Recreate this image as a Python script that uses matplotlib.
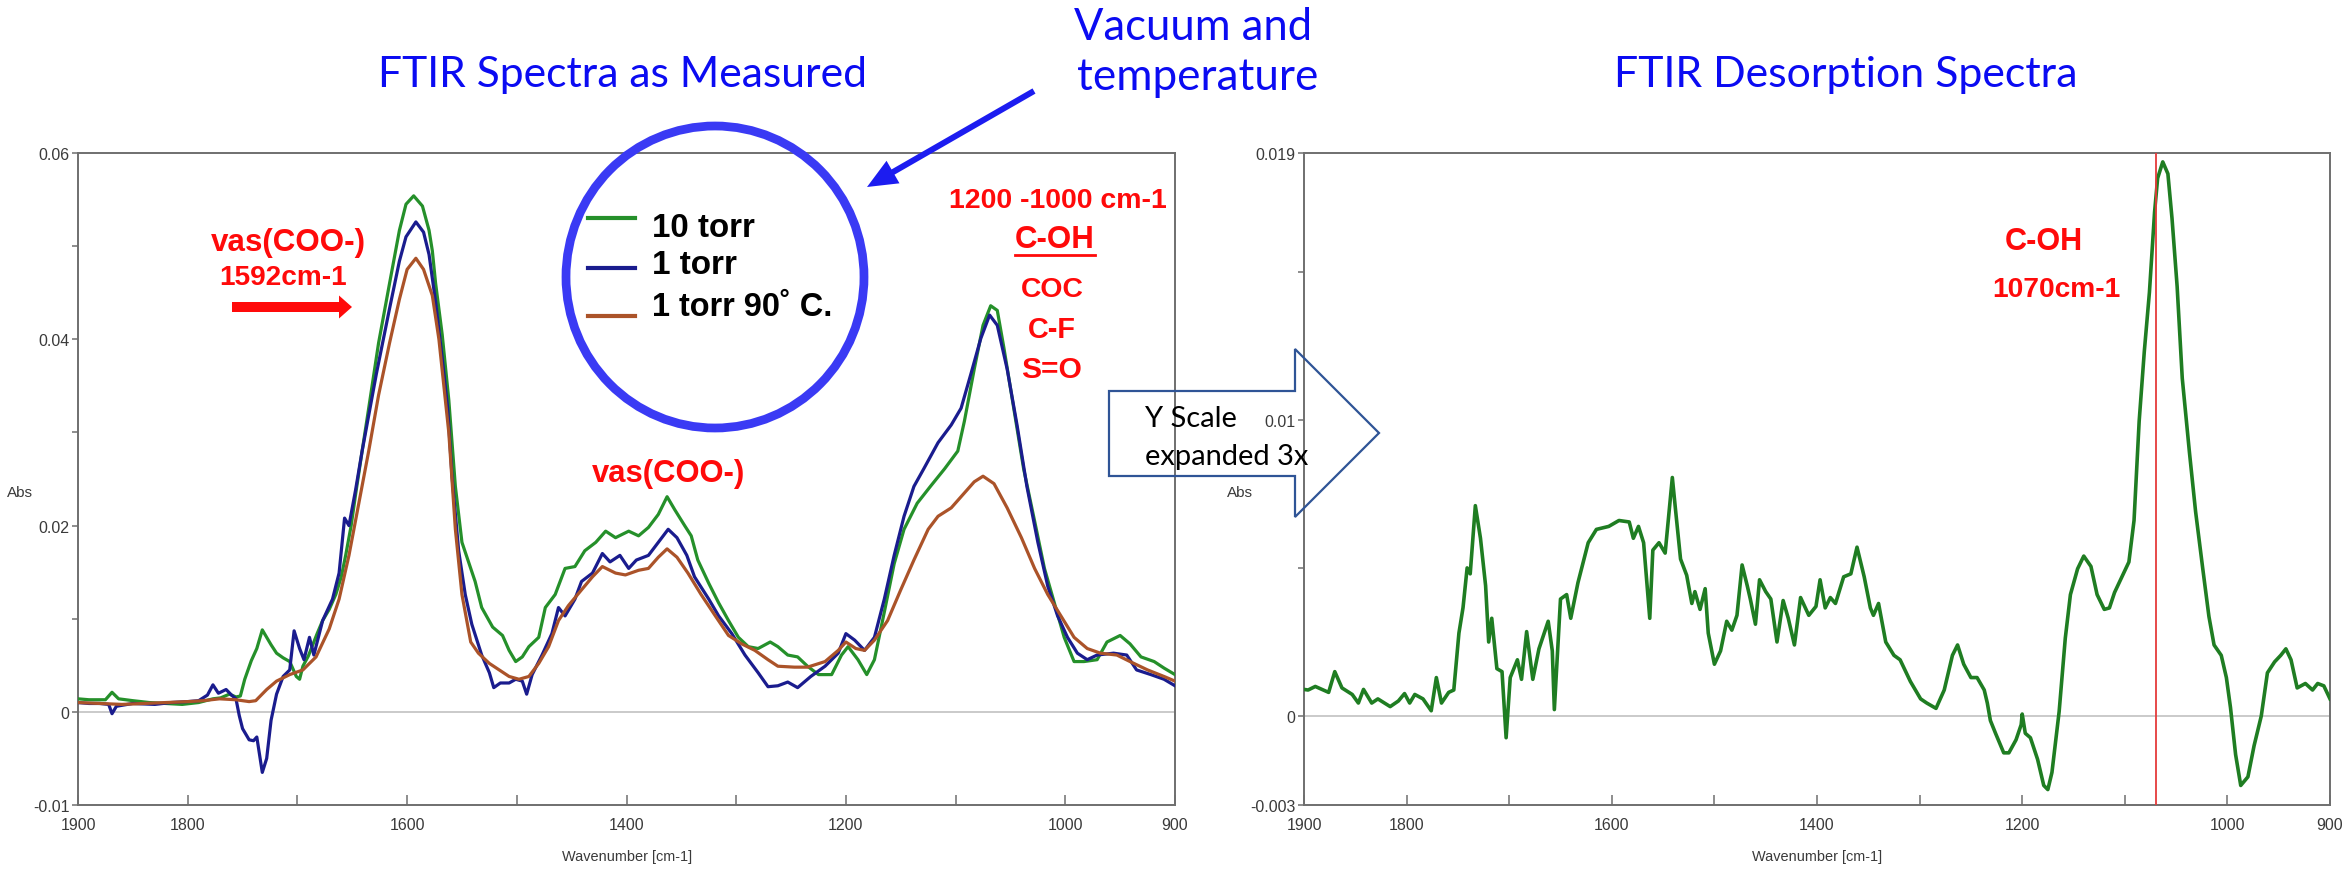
import matplotlib
matplotlib.use("Agg")
import matplotlib.pyplot as plt
import numpy as np
from matplotlib.patches import Ellipse, Polygon, FancyArrow
from matplotlib.lines import Line2D
from matplotlib.ticker import FixedLocator, FixedFormatter

plt.rcParams['font.family'] = ['Liberation Sans', 'DejaVu Sans']

# ---------------------------------------------------------------- data
series_names = ['10 torr', '1 torr', '1 torr 90\u02da C.']

wn_10torr = [
    1900, 1890, 1880, 1875, 1869, 1863, 1850, 1835, 1820, 1805,
    1790, 1777, 1770, 1762, 1756, 1752, 1748, 1742, 1737, 1732,
    1728, 1724, 1719, 1713, 1707, 1701, 1698, 1695, 1690, 1685,
    1682, 1677, 1671, 1665, 1660, 1656, 1651, 1647, 1641, 1635,
    1626, 1616, 1607, 1601, 1594, 1586, 1580, 1577, 1574, 1568,
    1562, 1556, 1550, 1544, 1538, 1532, 1522, 1513, 1507, 1501,
    1495, 1489, 1480, 1474, 1465, 1456, 1447, 1438, 1428, 1419,
    1410, 1398, 1389, 1380, 1371, 1363, 1356, 1347, 1341, 1335,
    1325, 1316, 1307, 1298, 1289, 1280, 1269, 1262, 1253, 1244,
    1235, 1225, 1213, 1204, 1198, 1189, 1181, 1174, 1165, 1156,
    1147, 1135, 1123, 1110, 1098, 1092, 1083, 1075, 1068, 1062,
    1056, 1047, 1038, 1028, 1019, 1010, 1001, 992, 983, 971,
    962, 950, 941, 931, 919, 910, 900]
abs_10torr = [
    .0014, .0013, .0013, .0013, .0021, .0014, .0012, .0010, .0009, .0008,
    .0010, .0014, .0015, .0019, .0016, .0017, .0035, .0055, .0068, .0088,
    .0080, .0072, .0063, .0058, .0054, .0038, .0035, .0049, .0060, .0075,
    .0084, .0098, .0110, .0126, .0145, .0168, .0200, .0233, .0280, .0326,
    .0396, .0460, .0517, .0545, .0554, .0543, .0517, .0495, .0460, .0405,
    .0335, .0242, .0182, .0161, .0140, .0112, .0091, .0082, .0066, .0054,
    .0059, .0070, .0080, .0112, .0126, .0154, .0156, .0173, .0182, .0194,
    .0187, .0194, .0189, .0198, .0212, .0231, .0217, .0200, .0189, .0163,
    .0138, .0117, .0098, .0080, .0070, .0068, .0075, .0070, .0061, .0059,
    .0049, .0040, .0040, .0061, .0070, .0056, .0040, .0056, .0107, .0159,
    .0196, .0224, .0242, .0261, .0280, .0312, .0368, .0415, .0436, .0431,
    .0391, .0326, .0261, .0205, .0154, .0117, .0080, .0054, .0054, .0056,
    .0075, .0082, .0073, .0059, .0054, .0047, .0040]

wn_1torr = [
    1900, 1890, 1880, 1872, 1869, 1865, 1850, 1830, 1815, 1800,
    1790, 1782, 1777, 1772, 1765, 1760, 1756, 1753, 1750, 1744,
    1740, 1737, 1732, 1728, 1724, 1719, 1713, 1707, 1703, 1698,
    1694, 1689, 1685, 1677, 1668, 1662, 1657, 1653, 1647, 1641,
    1628, 1616, 1607, 1601, 1592, 1585, 1580, 1574, 1568, 1563,
    1559, 1553, 1547, 1541, 1532, 1525, 1521, 1515, 1507, 1501,
    1495, 1491, 1486, 1477, 1468, 1462, 1456, 1447, 1441, 1431,
    1422, 1415, 1406, 1398, 1391, 1380, 1371, 1362, 1354, 1345,
    1338, 1325, 1316, 1304, 1292, 1280, 1271, 1262, 1253, 1244,
    1232, 1219, 1207, 1200, 1192, 1183, 1174, 1165, 1156, 1147,
    1138, 1129, 1116, 1104, 1095, 1086, 1077, 1069, 1062, 1053,
    1044, 1035, 1025, 1016, 1007, 998, 989, 980, 971, 956,
    944, 935, 922, 910, 900]
abs_1torr = [
    .0010, .0009, .0009, .0008, -.0002, .0006, .0009, .0008, .0010, .0011,
    .0012, .0018, .0029, .0020, .0024, .0018, .0014, -.0004, -.0018, -.0030,
    -.0031, -.0027, -.0065, -.0050, -.0009, .0019, .0038, .0045, .0087, .0068,
    .0056, .0080, .0061, .0098, .0121, .0149, .0208, .0200, .0238, .0280,
    .0363, .0433, .0484, .0510, .0526, .0515, .0491, .0440, .0380, .0326,
    .0252, .0173, .0126, .0094, .0061, .0042, .0026, .0031, .0031, .0035,
    .0033, .0019, .0040, .0061, .0084, .0112, .0103, .0121, .0140, .0149,
    .0170, .0161, .0168, .0154, .0163, .0168, .0182, .0196, .0187, .0168,
    .0145, .0121, .0103, .0084, .0061, .0042, .0027, .0028, .0032, .0026,
    .0038, .0049, .0063, .0084, .0077, .0066, .0080, .0121, .0168, .0210,
    .0242, .0261, .0289, .0308, .0326, .0363, .0401, .0426, .0415, .0368,
    .0308, .0242, .0182, .0135, .0103, .0080, .0063, .0056, .0061, .0063,
    .0061, .0045, .0040, .0035, .0028]

wn_1torr_90c = [
    1900, 1880, 1860, 1840, 1820, 1800, 1786, 1771, 1756, 1744,
    1738, 1728, 1719, 1707, 1695, 1683, 1671, 1662, 1653, 1644,
    1635, 1626, 1616, 1607, 1600, 1592, 1585, 1577, 1571, 1562,
    1556, 1550, 1542, 1535, 1525, 1516, 1507, 1498, 1489, 1480,
    1471, 1462, 1453, 1441, 1431, 1422, 1410, 1401, 1389, 1380,
    1371, 1363, 1354, 1344, 1332, 1319, 1307, 1295, 1283, 1271,
    1262, 1247, 1235, 1219, 1207, 1200, 1191, 1183, 1174, 1162,
    1150, 1138, 1125, 1116, 1104, 1092, 1083, 1075, 1065, 1053,
    1040, 1028, 1016, 1004, 992, 980, 968, 953, 941, 925,
    910, 900]
abs_1torr_90c = [
    .0010, .0009, .0008, .0009, .0010, .0011, .0012, .0014, .0013, .0011,
    .0012, .0024, .0033, .0040, .0045, .0059, .0089, .0121, .0168, .0224,
    .0280, .0340, .0396, .0443, .0475, .0487, .0475, .0447, .0400, .0300,
    .0196, .0126, .0075, .0063, .0052, .0045, .0038, .0035, .0038, .0052,
    .0070, .0098, .0114, .0131, .0145, .0156, .0149, .0147, .0152, .0154,
    .0166, .0175, .0166, .0149, .0126, .0103, .0082, .0073, .0066, .0056,
    .0049, .0048, .0048, .0054, .0066, .0075, .0068, .0066, .0077, .0098,
    .0131, .0163, .0196, .0210, .0219, .0235, .0247, .0253, .0245, .0219,
    .0187, .0154, .0126, .0103, .0080, .0068, .0063, .0061, .0054, .0045,
    .0038, .0033]

# desorption spectrum, in milli-absorbance units
wn_desorption = [
    1900, 1896, 1889, 1876, 1870, 1863, 1853, 1847, 1842, 1834,
    1828, 1816, 1808, 1802, 1797, 1792, 1784, 1776, 1771, 1766,
    1759, 1754, 1749, 1745, 1741, 1738, 1733, 1728, 1723, 1720,
    1717, 1712, 1707, 1703, 1699, 1692, 1688, 1683, 1677, 1671,
    1662, 1658, 1656, 1650, 1644, 1640, 1633, 1623, 1615, 1603,
    1593, 1583, 1579, 1574, 1569, 1563, 1560, 1554, 1548, 1541,
    1538, 1533, 1527, 1522, 1519, 1514, 1509, 1506, 1500, 1494,
    1488, 1483, 1478, 1473, 1468, 1465, 1460, 1456, 1450, 1445,
    1439, 1433, 1428, 1422, 1416, 1408, 1401, 1397, 1392, 1387,
    1382, 1374, 1367, 1361, 1354, 1348, 1345, 1340, 1333, 1325,
    1319, 1309, 1299, 1293, 1284, 1276, 1268, 1263, 1257, 1250,
    1244, 1237, 1234, 1231, 1226, 1218, 1213, 1206, 1201, 1200,
    1197, 1192, 1185, 1179, 1175, 1171, 1164, 1158, 1153, 1146,
    1140, 1133, 1127, 1120, 1115, 1110, 1101, 1096, 1091, 1086,
    1081, 1076, 1071, 1068, 1063, 1058, 1054, 1049, 1044, 1037,
    1031, 1024, 1018, 1013, 1006, 1001, 997, 992, 987, 980,
    974, 967, 961, 954, 948, 943, 938, 932, 924, 917,
    912, 906, 900]
mabs_desorption = [
    0.90, 0.88, 1.00, 0.80, 1.50, 0.95, 0.73, 0.44, 0.90, 0.44,
    0.58, 0.32, 0.51, 0.76, 0.44, 0.73, 0.58, 0.18, 1.30, 0.44,
    0.80, 0.88, 2.80, 3.66, 5.00, 4.80, 7.10, 6.00, 4.40, 2.50,
    3.30, 1.60, 1.50, -0.73, 1.30, 1.90, 1.24, 2.85, 1.24, 2.27,
    3.20, 2.20, 0.22, 3.95, 4.10, 3.30, 4.50, 5.85, 6.30, 6.40,
    6.60, 6.55, 6.00, 6.40, 5.85, 3.30, 5.60, 5.85, 5.50, 8.05,
    7.00, 5.30, 4.75, 3.80, 4.20, 3.60, 4.30, 2.80, 1.75, 2.20,
    3.20, 2.90, 3.40, 5.10, 4.40, 3.95, 3.10, 4.60, 4.20, 3.95,
    2.50, 3.90, 3.30, 2.40, 4.00, 3.40, 3.70, 4.60, 3.65, 4.00,
    3.80, 4.70, 4.80, 5.70, 4.70, 3.65, 3.40, 3.80, 2.50, 2.05,
    1.90, 1.17, 0.58, 0.44, 0.26, 0.88, 2.05, 2.40, 1.75, 1.30,
    1.30, 0.88, 0.44, -0.15, -0.58, -1.24, -1.24, -0.80, -0.29, 0.07,
    -0.58, -0.73, -1.46, -2.34, -2.48, -1.90, 0.15, 2.63, 4.10, 4.97,
    5.40, 5.05, 4.10, 3.60, 3.65, 4.17, 4.83, 5.20, 6.60, 9.95,
    12.3, 14.3, 17.0, 18.15, 18.7, 18.3, 16.8, 14.5, 11.4, 8.9,
    6.9, 4.97, 3.36, 2.40, 2.05, 1.30, 0.29, -1.30, -2.34, -2.05,
    -1.00, 0.00, 1.46, 1.83, 2.05, 2.27, 1.90, 0.95, 1.10, 0.88,
    1.10, 1.02, 0.58]

c_oh_peak = 1070  # cm-1, marked on the desorption spectrum

x_ticks = [1900, 1800, 1700, 1600, 1500, 1400, 1300, 1200, 1100, 1000, 900]
x_tick_labels = ['1900', '1800', '', '1600', '', '1400', '', '1200', '', '1000', '900']
y_ticks_measured = [-0.01, 0, 0.01, 0.02, 0.03, 0.04, 0.05, 0.06]
y_labels_measured = ['-0.01', '0', '', '0.02', '', '0.04', '', '0.06']
y_ticks_desorb = [-0.003, 0, 0.005, 0.01, 0.015, 0.019]
y_labels_desorb = ['-0.003', '0', '', '0.01', '', '0.019']

# ---------------------------------------------------------------- figure
W, H, DPI = 2344, 879, 100
fig = plt.figure(figsize=(W / DPI, H / DPI), dpi=DPI, facecolor='white')


def frame(left, right, top=154, bottom=806):
    return [left / W, 1 - bottom / H, (right - left) / W, (bottom - top) / H]


ax1 = fig.add_axes(frame(78, 1175))
ax2 = fig.add_axes(frame(1304, 2330))

SPINE = '#6f6f6f'
TICKTXT = '#3a3a3a'
GREEN, NAVY, BROWN = '#25902a', '#1a1c8e', '#ab5329'
DESORB_GREEN = '#1f7d22'


def style(ax, yticks, ylabels, ylim):
    ax.set_xlim(1900, 900)
    ax.set_ylim(*ylim)
    ax.axhline(0, color='#cacaca', lw=1.4, zorder=1)
    for s in ax.spines.values():
        s.set_color(SPINE)
        s.set_linewidth(1.4)
    ax.xaxis.set_major_locator(FixedLocator(x_ticks))
    ax.xaxis.set_major_formatter(FixedFormatter(x_tick_labels))
    ax.yaxis.set_major_locator(FixedLocator(yticks))
    ax.yaxis.set_major_formatter(FixedFormatter(ylabels))
    ax.tick_params(axis='x', direction='in', length=7, width=1.1, color=SPINE,
                   labelcolor=TICKTXT, labelsize=11.5, pad=9)
    ax.tick_params(axis='y', direction='out', length=4.5, width=1.1, color=SPINE,
                   labelcolor=TICKTXT, labelsize=11.5, pad=1.5)


style(ax1, y_ticks_measured, y_labels_measured, (-0.01, 0.06))
style(ax2, y_ticks_desorb, y_labels_desorb, (-0.003, 0.019))

colors = [GREEN, NAVY, BROWN]
curves = [(wn_10torr, abs_10torr), (wn_1torr, abs_1torr), (wn_1torr_90c, abs_1torr_90c)]
for (wn, a), c, name in zip(curves, colors, series_names):
    ax1.plot(wn, a, color=c, lw=2.3, label=name, zorder=3, solid_joinstyle='round')

ax2.plot(wn_desorption, np.asarray(mabs_desorption) * 1e-3, color=DESORB_GREEN,
         lw=2.6, zorder=3, solid_joinstyle='round')
ax2.axvline(c_oh_peak, color='#e53a3a', lw=1.3, zorder=4)

# ---------------------------------------------------------------- overlay (pixel coordinates)
ov = fig.add_axes([0, 0, 1, 1], zorder=10)
ov.set_xlim(0, W)
ov.set_ylim(H, 0)
ov.axis('off')
ov.patch.set_visible(False)

renderer = fig.canvas.get_renderer()


def fitted(x, y, s, width, **kw):
    t = ov.text(x, y, s, **kw)
    for _ in range(2):
        w = t.get_window_extent(renderer).width
        t.set_fontsize(t.get_fontsize() * width / w)
    return t


TITLE_BLUE = '#0b0bf2'
RED = '#ff0a0a'
title_font = dict(family=['Lato', 'DejaVu Sans'], color=TITLE_BLUE, fontsize=30)
fitted(622, 75, 'FTIR Spectra as Measured', 489, ha='center', va='center', **title_font)
fitted(1846, 75, 'FTIR Desorption Spectra', 463, ha='center', va='center', **title_font)
fitted(1074, 40, 'Vacuum and', 238, ha='left', va='baseline', **title_font)
fitted(1077, 90, 'temperature', 241, ha='left', va='baseline', **title_font)

# axis captions
for cx in (627, 1817):
    fitted(cx, 857, 'Wavenumber [cm-1]', 131, ha='center', va='center',
           color=TICKTXT, fontsize=10)
ov.text(20, 493, 'Abs', ha='center', va='center', color=TICKTXT, fontsize=11)
ov.text(1240, 493, 'Abs', ha='center', va='center', color=TICKTXT, fontsize=11)

# circled legend
ov.add_patch(Ellipse((715, 278), 298, 302, fill=False, ec='#3a3af4', lw=6.3))
legend_rows = [(219, 229), (269, 266), (317, 308)]
legend_widths = [103, 85, 181]
for (ly, ty), c, name, wdt in zip(legend_rows, colors, series_names, legend_widths):
    ov.add_line(Line2D([588, 635], [ly, ly], color=c, lw=3.0))
    fitted(652, ty, name, wdt, ha='left', va='center', color='black',
           fontweight='bold', fontsize=22)

# arrow pointing at the legend circle
ov.add_patch(FancyArrow(1034, 92, 867 - 1034, 188 - 92, width=6, head_width=26,
                        head_length=30, length_includes_head=True,
                        color='#1c1cf0', lw=0))

# band annotations
bold_red = dict(color=RED, fontweight='bold', ha='center', va='center', fontsize=20)
fitted(288, 243, 'vas(COO-)', 155, **bold_red)
fitted(283, 278, '1592cm-1', 128, **bold_red)
ov.add_patch(FancyArrow(232, 308, 120, 0, width=10, head_width=23, head_length=13,
                        length_includes_head=True, color=RED, lw=0))
fitted(668, 474, 'vas(COO-)', 153, **bold_red)
fitted(1058, 201, '1200 -1000 cm-1', 218, **bold_red)
fitted(1055, 240, 'C-OH', 80, **bold_red)
ov.add_line(Line2D([1015, 1095], [256, 256], color=RED, lw=2))
fitted(1052, 290, 'COC', 63, **bold_red)
fitted(1052, 330, 'C-F', 48, **bold_red)
fitted(1052, 370, 'S=O', 61, **bold_red)
fitted(2044, 242, 'C-OH', 78, **bold_red)
fitted(2056, 290, '1070cm-1', 128, **bold_red)

# block arrow between the two panels
ov.add_patch(Polygon([(1109, 392), (1295, 392), (1295, 350), (1379, 434),
                      (1295, 518), (1295, 477), (1109, 477)],
                     closed=True, fill=False, ec='#2f5496', lw=1.6))
arrow_font = dict(family=['Lato', 'DejaVu Sans'], color='black', ha='left',
                  va='baseline', fontsize=20)
t_exp = fitted(1145, 465, 'expanded 3x', 163, **arrow_font)
ov.text(1145, 427, 'Y Scale', fontsize=t_exp.get_fontsize(),
        **{k: v for k, v in arrow_font.items() if k != 'fontsize'})

fig.savefig('out.png', dpi=DPI, facecolor='white')
